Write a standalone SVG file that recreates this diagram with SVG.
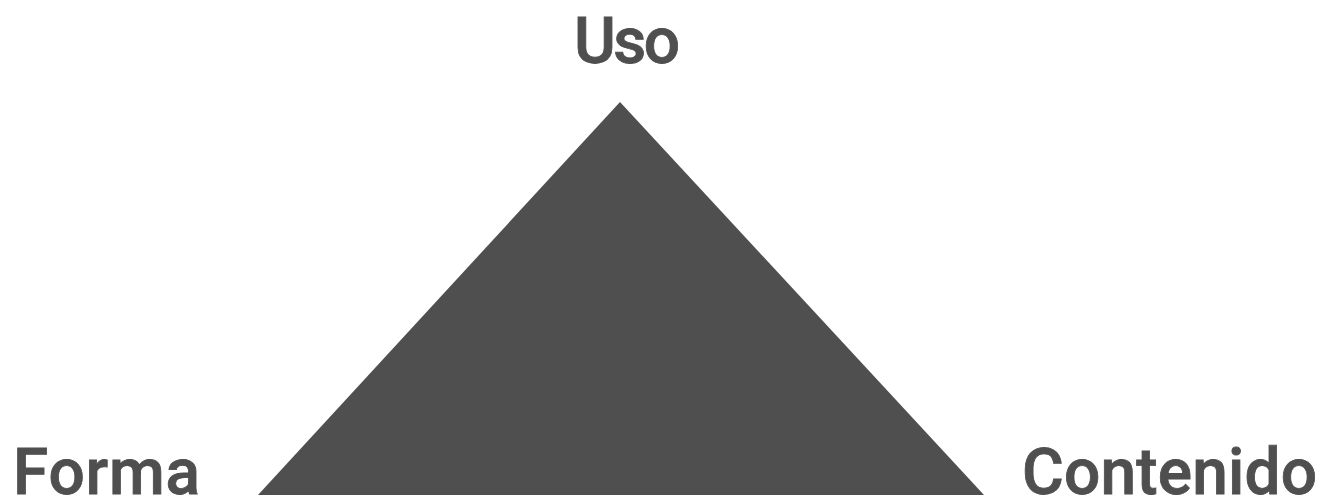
<svg xmlns="http://www.w3.org/2000/svg" width="1319" height="498" viewBox="0 0 1319 498">
<style>
.lbl{font-family:Roboto,"Liberation Sans",sans-serif;font-weight:500;font-size:64px;fill:#4f4f4f;stroke:#4f4f4f;stroke-width:0.8}
</style>
<rect width="1319" height="498" fill="#ffffff"/>
<g id="triangle"><polygon points="620,102 984,495 258,495" fill="#4f4f4f"/></g>
<g id="uso"><text class="lbl" x="574" y="63" textLength="106" lengthAdjust="spacing">Uso</text></g>
<g id="forma"><text class="lbl" x="13" y="494" textLength="187" lengthAdjust="spacing">Forma</text></g>
<g id="contenido"><text class="lbl" x="1022" y="494" textLength="295" lengthAdjust="spacing">Contenido</text></g>
<g id="connectors"/>
</svg>
